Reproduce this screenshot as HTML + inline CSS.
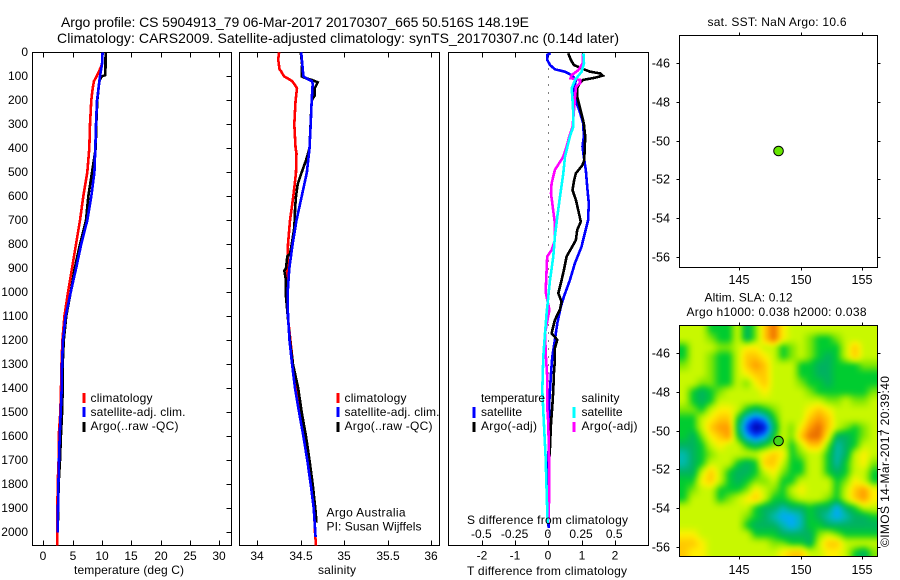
<!DOCTYPE html>
<html>
<head>
<meta charset="utf-8">
<title>Argo profile</title>
<style>
html,body{margin:0;padding:0;background:#fff;}
svg{display:block;}
text{font-family:"Liberation Sans",sans-serif;font-size:12px;fill:#000;}
.t13{font-size:12.6px;}
.t14{font-size:14px;}
.frame{fill:none;stroke:#000;stroke-width:1;shape-rendering:crispEdges;}
.tick{stroke:#000;stroke-width:1;shape-rendering:crispEdges;}
.curve{fill:none;stroke-width:2.6;stroke-linejoin:miter;shape-rendering:crispEdges;}
.key{stroke-width:2.6;shape-rendering:crispEdges;}
</style>
</head>
<body>
<svg id="fig" xmlns="http://www.w3.org/2000/svg" width="900" height="580" viewBox="0 0 900 580">
  <rect x="0" y="0" width="900" height="580" fill="#fff"/>
  <text class="t14" x="61" y="27" textLength="468">Argo profile: CS 5904913_79 06-Mar-2017 20170307_665 50.516S 148.19E</text>
  <text class="t14" x="57" y="43" textLength="562">Climatology: CARS2009. Satellite-adjusted climatology: synTS_20170307.nc (0.14d later)</text>

  <g id="p1"></g>
  <g id="p2"></g>
  <g id="p3"></g>
  <g id="m1"></g>
  <g id="m2"></g>

  <text x="74" y="574" textLength="110">temperature (deg C)</text>
  <text x="318" y="574" textLength="38">salinity</text>
  <text x="467" y="575" textLength="160">T difference from climatology</text>
  <text x="467" y="524" textLength="161">S difference from climatology</text>

  <text x="90.5" y="402" textLength="62">climatology</text>
  <text x="90.5" y="416" textLength="95">satellite-adj. clim.</text>
  <text x="90.5" y="430" textLength="88">Argo(..raw -QC)</text>
  <line class="key" x1="84" x2="84" y1="393" y2="403" stroke="#f00"/>
  <line class="key" x1="84" x2="84" y1="407" y2="417" stroke="#00f"/>
  <line class="key" x1="84" x2="84" y1="422" y2="432" stroke="#000"/>

  <text x="344.5" y="402" textLength="62">climatology</text>
  <text x="344.5" y="416" textLength="95">satellite-adj. clim.</text>
  <text x="344.5" y="430" textLength="88">Argo(..raw -QC)</text>
  <line class="key" x1="338" x2="338" y1="393" y2="403" stroke="#f00"/>
  <line class="key" x1="338" x2="338" y1="407" y2="417" stroke="#00f"/>
  <line class="key" x1="338" x2="338" y1="422" y2="432" stroke="#000"/>

  <text x="326.5" y="516.5" textLength="79">Argo Australia</text>
  <text x="326.5" y="530.5" textLength="95">PI: Susan Wijffels</text>

  <text x="481" y="402" textLength="64">temperature</text>
  <text x="581.5" y="402" textLength="38">salinity</text>
  <text x="481" y="416" textLength="41">satellite</text>
  <text x="481" y="430" textLength="56">Argo(-adj)</text>
  <text x="581.5" y="416" textLength="41">satellite</text>
  <text x="581.5" y="430" textLength="56">Argo(-adj)</text>
  <line class="key" x1="474" x2="474" y1="407" y2="418" stroke="#00f"/>
  <line class="key" x1="474" x2="474" y1="422" y2="432" stroke="#000"/>
  <line class="key" x1="574" x2="574" y1="407" y2="418" stroke="#0ff"/>
  <line class="key" x1="574" x2="574" y1="422" y2="432" stroke="#f0f"/>

  <text x="707.5" y="26" textLength="139">sat. SST: NaN Argo: 10.6</text>
  <text x="704.5" y="301.5" textLength="88">Altim. SLA: 0.12</text>
  <text x="686.5" y="316" textLength="180">Argo h1000: 0.038 h2000: 0.038</text>
  <text transform="translate(889,547) rotate(-90)" x="0" y="0" textLength="171">©IMOS 14-Mar-2017 20:39:40</text>
</svg>
<script>
// ---- depth axis ----
var depthTicks = [0,100,200,300,400,500,600,700,800,900,1000,1100,1200,1300,1400,1500,1600,1700,1800,1900,2000];
// ---- temperature panel ----
var tempTicks = [0,5,10,15,20,25,30];
var tempClimDepth = [0,50,80,100,120,150,200,300,400,500,600,700,800,900,1000,1100,1200,1300,1400,1500,1600,1700,1800,1900,2000,2055];
var tempClim = [10.1,10,9.49,9.09,8.64,8.41,8.18,7.96,7.84,7.5,6.82,6.25,5.57,4.89,4.21,3.6,3.25,3.1,3.02,2.9,2.62,2.6,2.45,2.4,2.39,2.39];
var tempSatDepth = [0,50,100,150,200,300,400,500,600,700,800,900,1000,1100,1200,1300,1400,1500,1600,1700,1800,1900,2000];
var tempSat = [10.1,10,9.66,9.4,9.15,8.97,8.86,8.7,8.18,7.5,6.45,5.58,4.67,3.8,3.36,3.18,3.13,2.96,2.79,2.67,2.57,2.5,2.45];
var tempArgoDepth = [0,95,100,120,200,300,400,500,600,700,800,900,1000,1100,1200,1300,1400,1500,1600,1700,1800,1950];
var tempArgo = [10.62,10.58,9.95,9.55,9.2,9.03,8.92,8.3,7.67,7.27,6.25,5.35,4.67,3.9,3.5,3.3,3.3,3.2,3.0,2.85,2.6,2.5];
// ---- salinity panel ----
var salTicks = [34,34.5,35,35.5,36];
var salClimDepth = [0,30,70,80,100,110,120,140,150,200,300,400,420,500,550,600,700,800,900,1000,1100,1200,1300,1400,1500,1600,1700,1800,1900,2000,2055];
var salClim = [34.25,34.24,34.255,34.275,34.307,34.355,34.40,34.44,34.456,34.44,34.425,34.44,34.45,34.445,34.43,34.414,34.376,34.353,34.345,34.33,34.35,34.38,34.41,34.46,34.50,34.55,34.585,34.625,34.652,34.663,34.675];
var salSatDepth = [0,100,110,120,130,200,300,400,500,600,700,800,900,1000,1100,1200,1300,1400,1500,1600,1700,1800,1900,2000,2020];
var salSat = [34.505,34.53,34.57,34.625,34.637,34.625,34.614,34.6,34.57,34.51,34.45,34.406,34.368,34.349,34.353,34.37,34.4,34.433,34.48,34.53,34.575,34.614,34.648,34.667,34.67];
var salArgoDepth = [0,50,100,105,115,125,150,180,200,400,450,500,550,600,650,700,740,800,840,850,900,910,950,1000,1100,1200,1300,1400,1500,1600,1700,1800,1900,1960];
var salArgo = [34.50,34.515,34.51,34.535,34.625,34.694,34.66,34.66,34.625,34.6,34.56,34.51,34.464,34.445,34.434,34.43,34.422,34.395,34.376,34.345,34.33,34.31,34.33,34.325,34.35,34.375,34.41,34.47,34.51,34.56,34.6,34.637,34.667,34.68];
// ---- difference panel ----
var diffTTicks = [-2,-1,0,1,2];
var diffSTicks = [-0.5,-0.25,0,0.25,0.5];
var diffSLabels = ["-0.5","-0.25","0","0.25","0.5"];
var dtSatDepth = [4,11,32,53,71,81,95,115,136,171,206,240,296,351,393,435,490,574,629,699,754,810,879,949,1018,1059,1129,1198,1268,1337,1407,1476,1546,1810,1983];
var dtSat = [.07,-.03,-.03,.05,.20,.50,.70,.83,.80,.77,.83,.93,1.05,1.07,1.03,1.07,1.13,1.18,1.22,1.20,1.10,1.00,.80,.65,.47,.38,.27,.20,.12,.08,.05,.02,.03,-.02,.01];
var dtArgoDepth = [4,32,53,67,81,88,97,106,115,129,150,185,240,296,351,393,449,470,504,532,574,615,657,706,740,782,810,851,907,949,1004,1039,1073,1115,1171,1198,1233,1282,1337,1407,1476,1546,1615,1685];
var dtArgo = [.60,.68,.77,1.00,1.26,1.56,1.64,1.41,1.05,.95,.87,.87,.97,1.07,1.11,1.10,1.08,1.03,.83,.78,.73,.83,.90,.98,.87,.83,.72,.55,.47,.40,.30,.40,.35,.20,.10,.27,.20,.20,.17,.15,.12,.08,.06,.04];
var dsSatDepth = [4,46,81,115,150,185,254,310,351,435,504,601,685,768,851,949,1018,1087,1171,1268,1407,1546,1685,1823,1962];
var dsSat = [.264,.269,.251,.201,.176,.181,.188,.188,.163,.126,.113,.088,.068,.05,.038,.013,0,-.013,-.025,-.038,-.045,-.033,-.02,-.013,-.005];
var dsArgoDepth = [4,46,74,95,108,115,129,143,185,226,310,351,393,435,490,546,588,643,713,782,824,851,907,976,1004,1073,1171,1268,1351,1476,1546,1685,1823,1962];
var dsArgo = [.259,.259,.226,.176,.168,.239,.239,.209,.201,.196,.183,.158,.138,.113,.05,.025,.02,.033,.05,.05,.025,-.008,-.013,-.018,-.018,.008,-.025,-.018,-.008,-.008,0,.005,.008,0];
// ---- maps ----
var lonTicks = [145,150,155];
var latTicks = [-46,-48,-50,-52,-54,-56];
var floatLon = [148.19];
var floatLat = [-50.516];
// SLA in units of 0.05 m, rows north to south, columns west to east
var slaGrid = [
[ 1, 1, 1,-1,-1,-1, 1,-2, 0, 3, 5, 2, 1, 1, 1, 1, 1, 1, 1, 1, 1, 1],
[ 1, 1, 1, 0,-1,-1, 1,-2, 0, 3, 5, 2, 1, 1, 0,-1,-1, 0, 1, 1, 1, 1],
[-1, 1, 1, 1, 0, 0, 1, 2, 2, 1, 1,-1, 0, 1, 0,-1,-1,-1, 1, 3, 1, 1],
[-1, 1, 1, 0,-1,-1, 1, 3, 3, 2, 1,-1, 0, 1, 0,-1,-2,-1, 1, 3, 1, 1],
[ 0, 1, 1, 0,-1,-1, 1, 3, 4, 3, 1, 1, 1,-1,-1,-2,-2,-1,-1,-1, 0, 0],
[ 1, 1, 1, 0,-1,-1, 1, 2, 3, 3, 1, 1, 1,-1,-1,-2,-2,-1,-1,-1,-1,-1],
[ 1, 1, 0, 0,-1,-1, 1, 0, 2, 3, 1, 1, 1, 0,-1,-1,-2,-1,-1,-1,-1,-1],
[ 1,-1,-2,-1, 0, 1, 1, 1, 1, 2, 1, 1, 1, 1, 0,-1,-1,-1,-1,-1,-1, 0],
[ 1,-1,-2,-1, 1, 1, 1, 1, 1, 1, 1, 1, 1, 1, 1, 1, 0, 0, 1, 0, 0, 1],
[ 0, 0,-1, 1, 2, 2, 1,-1,-2,-1, 0, 1, 1, 1, 2, 3, 2, 1, 1, 1, 1, 1],
[-1,-1, 1, 2, 3, 3,-1,-4,-5,-4,-1, 1, 1, 1, 3, 4, 3, 1, 1, 1, 1, 1],
[-1,-1, 1, 3, 4, 4,-2,-5,-7,-6,-2, 1, 0, 2, 4, 5, 3, 1, 0,-1, 0, 1],
[-1,-2, 0, 2, 3, 4,-1,-4,-5,-4,-1, 1, 0, 3, 5, 5, 2,-2,-2,-1, 0, 1],
[-2,-2,-1, 1, 2, 1, 1,-1,-2,-1, 0, 1,-1, 1, 3, 3, 0,-3,-2,-1, 1, 1],
[-3,-2,-1, 0, 1, 1, 1, 1, 1, 2, 3, 2,-1, 0, 1, 1,-1,-3,-2, 1, 2, 1],
[-3,-2,-1, 1, 1, 1,-1,-2,-1, 3, 3, 1,-1,-1, 1, 1,-1,-3,-1, 1, 2, 0],
[-2,-2, 1, 3, 1,-1,-2,-2,-1, 1, 2, 0,-1,-1, 1, 1,-1,-2,-1, 1, 1,-1],
[-1,-1, 2, 3, 1,-1,-2,-1, 0, 0, 1,-1,-1, 1, 1, 1, 1,-1, 0, 2, 1,-1],
[-1, 0, 1, 1,-1,-1,-1, 0, 2, 1, 0,-1, 1, 2, 1, 1, 1,-1, 1, 3, 4, 2],
[-1, 1, 1, 1,-1, 0, 1, 2, 3, 1,-1,-1, 0, 1, 1, 1, 0,-1, 1, 3, 4, 2],
[ 1, 1, 1, 1, 1, 1, 1, 1,-1,-2,-2,-3,-2,-2,-1,-2,-2,-4,-2,-1, 1, 1],
[ 1, 1, 1, 1, 1, 1, 1, 0,-1,-2,-3,-4,-4,-3,-1,-2,-3,-4,-3,-2,-2,-1],
[ 1, 1, 1, 1, 1, 1, 1,-1,-2,-2,-2,-3,-4,-3,-1,-1,-2,-2,-2,-2,-2,-2],
[ 2, 2, 1, 1, 1, 1, 1, 1,-1,-1,-1,-2,-2,-2,-2, 0, 1, 0,-1,-1,-1,-1],
[ 3, 3, 2, 1, 1, 1, 1, 1, 1, 1, 0, 0,-1,-1,-2, 1, 3, 3, 1, 1, 1, 1],
[ 3, 2, 2, 1, 1, 1, 1, 1, 1, 1, 1, 2, 3, 3, 1, 1, 2, 2, 1,-1,-2, 0]
];
// colour at each SLA level from -7 to +5
var slaColors = [[0,0,150],[0,20,215],[0,70,255],[0,170,250],[0,185,175],[0,178,96],[0,204,48],[128,232,0],[200,248,0],[255,240,0],[255,200,0],[255,154,0],[232,108,0]];

var NS = "http://www.w3.org/2000/svg";
function mk(parent, tag, attrs, txt){
  var e = document.createElementNS(NS, tag);
  for (var k in attrs) e.setAttribute(k, attrs[k]);
  if (txt !== undefined) e.textContent = txt;
  parent.appendChild(e);
  return e;
}
var yDepth = function(d){ return 52.3 + 0.24*d; };
var xTemp = function(t){ return 43.3 + 5.87*t; };
var xSal  = function(s){ return 257.3 + 87*(s-34); };
var xDT   = function(v){ return 548.3 + 33.2*v; };
var xDS   = function(v){ return 548.3 + 132.8*v; };
var xLon  = function(l){ return 739.3 + 12.3*(l-145); };
var yLat1 = function(l){ return 141 + 19.37*(-50-l); };
var yLat2 = function(l){ return 431 + 19.37*(-50-l); };

function curve(g, depths, vals, xf, color, name, w){
  var d = "";
  for (var i=0;i<depths.length;i++){
    d += (i?"L":"M")+xf(vals[i]).toFixed(1)+" "+yDepth(depths[i]).toFixed(1);
  }
  var p = mk(g,"path",{"class":"curve",d:d,stroke:color});
  if (w) p.setAttribute("stroke-width", w);
  
  
}
function frame(g, x0, x1, y0, y1, name){
  var r = mk(g,"rect",{"class":"frame",x:x0,y:y0,width:x1-x0,height:y1-y0});
  
  
}
function tickLine(g,x1,y1,x2,y2){
  var l = mk(g,"line",{"class":"tick",x1:x1,y1:y1,x2:x2,y2:y2});
  
  
}
function label(g,x,y,anchor,str,cls){
  var a = {x:x,y:y,"text-anchor":anchor};
  if (cls) a["class"] = cls;
  var t = mk(g,"text",a,str);
  
  
}
function xTicks(g,ticks,xf,labels,yLabel){
  ticks.forEach(function(v,i){
    var x = Math.round(xf(v))+0.5;
    tickLine(g,x,52.5,x,57.5);
    tickLine(g,x,540.5,x,545.5);
    if (yLabel) label(g,x-0.5,yLabel,"middle",labels?labels[i]:String(v));
  });
}

// temperature panel
var p1 = document.getElementById("p1");
frame(p1,32.5,231.5,52.5,545.5,"temperature-axes-frame");
xTicks(p1,tempTicks,xTemp,null,560);
depthTicks.forEach(function(d){
  var y = Math.floor(yDepth(d))+0.5;
  if (d>0) tickLine(p1,226.5,y,231.5,y);
  label(p1,28,y+3.5,"end",String(d));
});
curve(p1,tempClimDepth,tempClim,xTemp,"#f00","temperature-climatology-line");
curve(p1,tempArgoDepth,tempArgo,xTemp,"#000","temperature-argo-line",2.2);
curve(p1,tempSatDepth,tempSat,xTemp,"#00f","temperature-satellite-line");

// salinity panel
var p2 = document.getElementById("p2");
frame(p2,239.5,439.5,52.5,545.5,"salinity-axes-frame");
xTicks(p2,salTicks,xSal,null,560);
curve(p2,salClimDepth,salClim,xSal,"#f00","salinity-climatology-line");
curve(p2,salArgoDepth,salArgo,xSal,"#000","salinity-argo-line",2.2);
curve(p2,salSatDepth,salSat,xSal,"#00f","salinity-satellite-line");

// difference panel
var p3 = document.getElementById("p3");
frame(p3,448.5,648.5,52.5,545.5,"difference-axes-frame");
xTicks(p3,diffTTicks,xDT,null,559.5);
diffSTicks.forEach(function(v,i){ label(p3,xDS(v)-0.5,538,"middle",diffSLabels[i]); });
var zero = mk(p3,"line",{x1:xDT(0),x2:xDT(0),y1:yDepth(0),y2:545,stroke:"#000","stroke-width":1,"stroke-dasharray":"1 7","shape-rendering":"crispEdges"});


curve(p3,dtSatDepth,dtSat,xDT,"#00f","t-satellite-difference-line");
curve(p3,dtArgoDepth,dtArgo,xDT,"#000","t-argo-difference-line",2.4);
curve(p3,dsArgoDepth,dsArgo,xDS,"#f0f","s-argo-difference-line");
curve(p3,dsSatDepth,dsSat,xDS,"#0ff","s-satellite-difference-line");

function mapAxes(g,x0,x1,y0,y1,yLat,labelY,name){
  lonTicks.forEach(function(l){
    var x = Math.round(xLon(l))+0.5;
    tickLine(g,x,y0-3,x,y0);
    tickLine(g,x,y1,x,y1+3);
    label(g,x-0.5,labelY,"middle",String(l),"t13");
  });
  latTicks.forEach(function(l){
    var y = Math.floor(yLat(l))+0.5;
    tickLine(g,x0-3,y,x0,y);
    tickLine(g,x1,y,x1+3,y);
    label(g,670,y+4,"end",String(l),"t13");
  });
  frame(g,x0,x1,y0,y1,name);
}
function floatMarker(g,yLat,fill,name){
  var c = mk(g,"circle",{cx:xLon(floatLon[0]),cy:yLat(floatLat[0]),r:4.8,fill:fill,stroke:"#000","stroke-width":1});
  
  
}

// SST map
var m1 = document.getElementById("m1");
mapAxes(m1,679.5,877.5,35.5,267.5,yLat1,284,"sst-map-frame");
floatMarker(m1,yLat1,"#66e600","sst-float-marker");

// SLA map
var gridLonW = 140.14, gridLonStep = 16.1/22, gridLatN = -44.53, gridLatStep = 11.96/26;
function slaAt(x,y){
  // sample the grid (defined at cell centres) at a map pixel
  var lon = 145+(x-739.3)/12.3, lat = -50-(y-431)/19.37;
  var fi = (lon-gridLonW)/gridLonStep-0.5, fj = (gridLatN-lat)/gridLatStep-0.5;
  var nj = slaGrid.length-1, ni = slaGrid[0].length-1;
  fi = Math.max(0,Math.min(ni,fi));
  fj = Math.max(0,Math.min(nj,fj));
  var i = Math.min(ni-1,Math.floor(fi)), j = Math.min(nj-1,Math.floor(fj));
  var a = fi-i, b = fj-j;
  return (slaGrid[j][i]*(1-a)+slaGrid[j][i+1]*a)*(1-b)+(slaGrid[j+1][i]*(1-a)+slaGrid[j+1][i+1]*a)*b;
}
function slaColor(v){
  var f = Math.max(0,Math.min(slaColors.length-1.001,v+7));
  var k = Math.floor(f), t = f-k, c0 = slaColors[k], c1 = slaColors[k+1];
  return "rgb("+Math.round(c0[0]+(c1[0]-c0[0])*t)+","+Math.round(c0[1]+(c1[1]-c0[1])*t)+","+Math.round(c0[2]+(c1[2]-c0[2])*t)+")";
}
var m2 = document.getElementById("m2");
var defs = mk(m2,"defs",{});
var clip = mk(defs,"clipPath",{id:"slaClip"});
mk(clip,"rect",{x:679.5,y:325,width:198,height:232});
var flt = mk(defs,"filter",{id:"slaBlur",filterUnits:"userSpaceOnUse",x:640,y:285,width:280,height:310,"color-interpolation-filters":"sRGB"});
mk(flt,"feGaussianBlur",{stdDeviation:2});
var clipG = mk(m2,"g",{"clip-path":"url(#slaClip)"});


var cellG = mk(clipG,"g",{filter:"url(#slaBlur)"});
for (var py=313; py<570; py+=3){
  for (var px=667; px<890; px+=3){
    var cell = mk(cellG,"rect",{x:px,y:py,width:3.5,height:3.5,fill:slaColor(slaAt(px+1.5,py+1.5))});
    
    
  }
}
mapAxes(m2,679.5,877.5,325.5,556.5,yLat2,574,"sla-map-frame");
floatMarker(m2,yLat2,"#44d418","sla-float-marker");
</script>
</body>
</html>
